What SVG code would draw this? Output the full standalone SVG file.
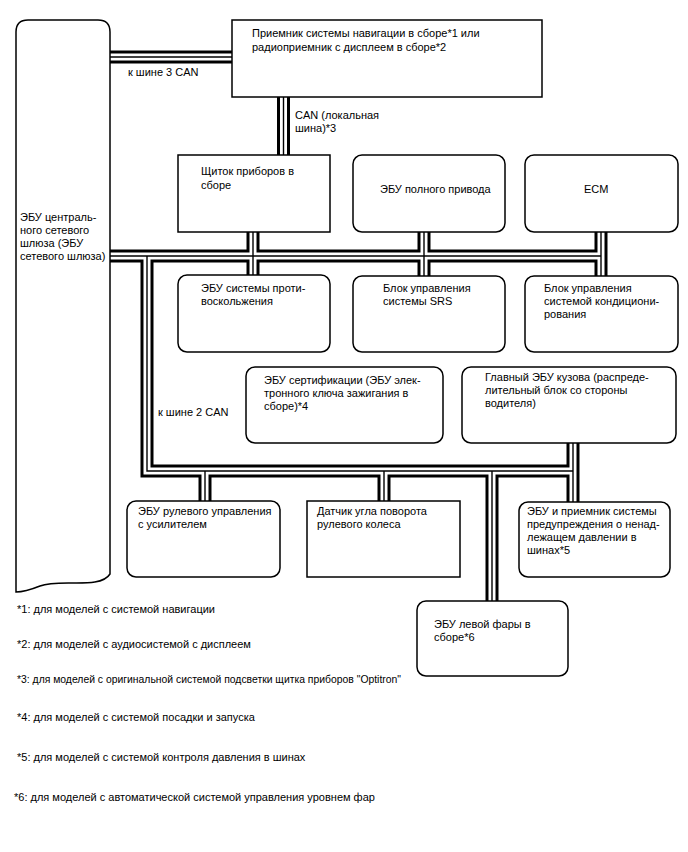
<svg xmlns="http://www.w3.org/2000/svg" width="688" height="852" viewBox="0 0 688 852">
<style>
text{font-family:"Liberation Sans",Arial,sans-serif;font-size:11px;fill:#000}
.box{fill:#fff;stroke:#000;stroke-width:1.5}
.bo{fill:none;stroke:#000;stroke-width:13;stroke-linejoin:miter}
.bw{fill:none;stroke:#fff;stroke-width:7;stroke-linejoin:miter}
.bc{fill:none;stroke:#000;stroke-width:1.4;stroke-linejoin:miter}
</style>
<defs>
<g id="buses">
<path d="M110,57 H232"/>
<path d="M283.5,97 V155"/>
<path d="M110,256 H601"/>
<path d="M253,232 V275"/>
<path d="M424,232 V276"/>
<path d="M601,232 V276"/>
<path d="M147,256 V471 H573"/>
<path d="M205,471 V501"/>
<path d="M384,471 V501"/>
<path d="M492,471 V601"/>
<path d="M573,443 V502"/>
</g>
</defs>
<rect width="688" height="852" fill="#fff"/>
<g id="connectors">
<use href="#buses" class="bo"/>
<use href="#buses" class="bw"/>
<use href="#buses" class="bc"/>
<text x="128" y="76">к шине 3 CAN</text>
<text x="295" y="119">CAN (локальная</text>
<text x="295" y="132">шина)*3</text>
<text x="158" y="416">к шине 2 CAN</text>
</g>
<g id="gateway">
<path class="box" d="M16,32 Q16,20 28,20 H98 Q110,20 110,32 V574 C100,590 60,578 40,586 C30,590 22,592 16,592 Z"/>
<text x="20" y="221">ЭБУ централь-</text>
<text x="20" y="234">ного сетевого</text>
<text x="20" y="247">шлюза (ЭБУ</text>
<text x="20" y="260">сетевого шлюза)</text>
</g>
<g id="nav">
<rect class="box" x="232" y="20" width="310" height="77"/>
<text x="252" y="37">Приемник системы навигации в сборе*1 или</text>
<text x="252" y="51">радиоприемник с дисплеем в сборе*2</text>
</g>
<g id="cluster">
<rect class="box" x="178" y="155" width="152" height="77"/>
<text x="201" y="175">Щиток приборов в</text>
<text x="201" y="189">сборе</text>
</g>
<g id="awd">
<rect class="box" x="353" y="155" width="152" height="77" rx="9"/>
<text x="380" y="193">ЭБУ полного привода</text>
</g>
<g id="ecm">
<rect class="box" x="525" y="155" width="153" height="77" rx="9"/>
<text x="584" y="193">ECM</text>
</g>
<g id="abs">
<rect class="box" x="178" y="275" width="152" height="77" rx="9"/>
<text x="201" y="292">ЭБУ системы проти-</text>
<text x="201" y="305">воскольжения</text>
</g>
<g id="srs">
<rect class="box" x="353" y="276" width="152" height="76" rx="9"/>
<text x="383" y="292">Блок управления</text>
<text x="383" y="305">системы SRS</text>
</g>
<g id="ac">
<rect class="box" x="525" y="276" width="153" height="76" rx="9"/>
<text x="544" y="292">Блок управления</text>
<text x="544" y="305">системой кондициони-</text>
<text x="544" y="318">рования</text>
</g>
<g id="cert">
<rect class="box" x="246" y="367" width="197" height="76" rx="9"/>
<text x="264" y="384">ЭБУ сертификации (ЭБУ элек-</text>
<text x="264" y="397">тронного ключа зажигания в</text>
<text x="264" y="410">сборе)*4</text>
</g>
<g id="body">
<rect class="box" x="462" y="367" width="214" height="76" rx="9"/>
<text x="485" y="381">Главный ЭБУ кузова (распреде-</text>
<text x="485" y="394">лительный блок со стороны</text>
<text x="485" y="407">водителя)</text>
</g>
<g id="eps">
<rect class="box" x="127" y="501" width="153" height="76" rx="9"/>
<text x="138" y="515">ЭБУ рулевого управления</text>
<text x="138" y="528">с усилителем</text>
</g>
<g id="sensor">
<rect class="box" x="307" y="501" width="153" height="76"/>
<text x="317" y="515">Датчик угла поворота</text>
<text x="317" y="528">рулевого колеса</text>
</g>
<g id="tpms">
<rect class="box" x="519" y="502" width="151" height="75" rx="9"/>
<text x="527" y="515">ЭБУ и приемник системы</text>
<text x="527" y="528">предупреждения о ненад-</text>
<text x="527" y="541">лежащем давлении в</text>
<text x="527" y="554">шинах*5</text>
</g>
<g id="headlamp">
<rect class="box" x="417" y="601" width="151" height="75" rx="9"/>
<text x="434" y="628">ЭБУ левой фары в</text>
<text x="434" y="641">сборе*6</text>
</g>
<g id="notes">
<text x="17" y="613">*1: для моделей с системой навигации</text>
<text x="17" y="648">*2: для моделей с аудиосистемой с дисплеем</text>
<text x="17" y="683" textLength="384" lengthAdjust="spacingAndGlyphs">*3: для моделей с оригинальной системой подсветки щитка приборов "Optitron"</text>
<text x="17" y="721">*4: для моделей с системой посадки и запуска</text>
<text x="17" y="761">*5: для моделей с системой контроля давления в шинах</text>
<text x="14" y="801">*6: для моделей с автоматической системой управления уровнем фар</text>
</g>
</svg>
